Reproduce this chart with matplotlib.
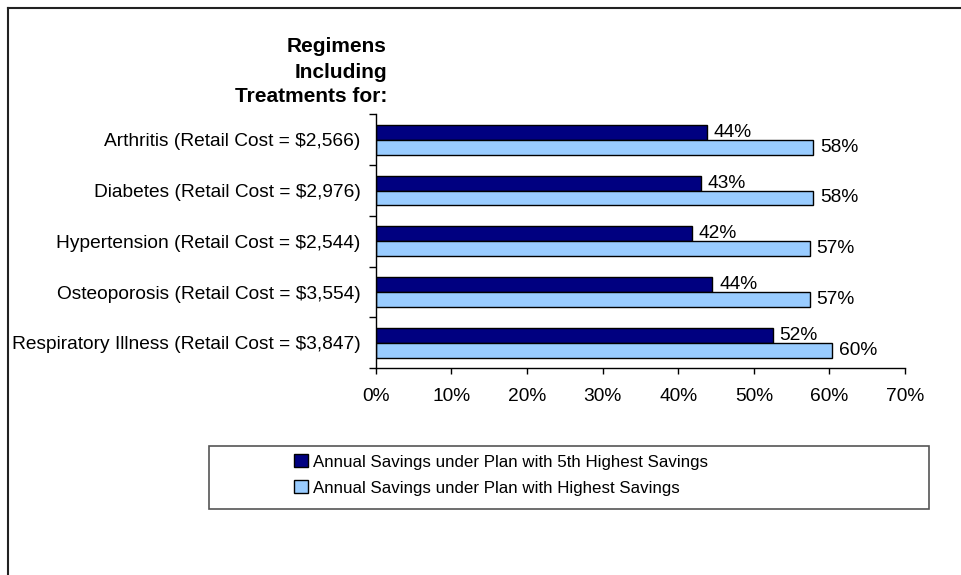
import matplotlib
matplotlib.use("Agg")
import matplotlib.pyplot as plt
from matplotlib.lines import Line2D
from matplotlib.patches import Rectangle, Patch
import numpy as np

plt.rcParams['font.family'] = ['Liberation Sans', 'DejaVu Sans']

# Data
categories = [
    "Arthritis (Retail Cost = $2,566)",
    "Diabetes (Retail Cost = $2,976)",
    "Hypertension (Retail Cost = $2,544)",
    "Osteoporosis (Retail Cost = $3,554)",
    "Respiratory Illness (Retail Cost = $3,847)",
]
fifth_highest = [0.438, 0.430, 0.418, 0.445, 0.525]
highest = [0.578, 0.578, 0.574, 0.574, 0.604]
fifth_labels = ["44%", "43%", "42%", "44%", "52%"]
highest_labels = ["58%", "58%", "57%", "57%", "60%"]
xticks = [0, 0.1, 0.2, 0.3, 0.4, 0.5, 0.6, 0.7]
series_names = [
    "Annual Savings under Plan with 5th Highest Savings",
    "Annual Savings under Plan with Highest Savings",
]

dark = "#000080"
light = "#99CCFF"
fs = 13.75

# Create figure
fig = plt.figure(figsize=(9.62, 5.75), dpi=100)
ax = fig.add_axes([0.3905, 0.3595, 0.5503, 0.4417])

y = np.arange(len(categories))
h = 0.295
ax.barh(y - h / 2, fifth_highest, height=h, color=dark, edgecolor="black", linewidth=1)
ax.barh(y + h / 2, highest, height=h, color=light, edgecolor="black", linewidth=1)

# Value labels next to bars
for i in range(len(categories)):
    ax.annotate(fifth_labels[i], (fifth_highest[i], y[i] - h / 2), xytext=(5, 0),
                textcoords="offset points", ha="left", va="center", fontsize=fs)
    ax.annotate(highest_labels[i], (highest[i], y[i] + h / 2), xytext=(5, 0),
                textcoords="offset points", ha="left", va="center", fontsize=fs)

ax.set_xlim(0, 0.7)
ax.set_ylim(len(categories) - 0.5, -0.5)

ax.set_xticks(xticks)
ax.set_xticklabels([f"{int(round(t * 100))}%" for t in xticks], fontsize=fs)
ax.tick_params(axis="x", length=4, pad=10, width=1)

# y ticks at category boundaries, labels at centres
ax.set_yticks(np.arange(len(categories) + 1) - 0.5)
ax.set_yticklabels([])
ax.set_yticks(y, minor=True)
ax.set_yticklabels(categories, minor=True, fontsize=fs)
ax.tick_params(axis="y", which="major", length=5, width=1)
ax.tick_params(axis="y", which="minor", length=0, pad=11)

for s in ["top", "right"]:
    ax.spines[s].set_visible(False)
for s in ["left", "bottom"]:
    ax.spines[s].set_linewidth(1)

# Heading above the category labels
fig.text(387 / 962, 1 - 72 / 575, "Regimens\nIncluding\nTreatments for:", ha="right", va="center",
         fontsize=15, fontweight="bold", linespacing=1.4)

# Legend box and legend
fig.patches.append(Rectangle((209 / 962, 1 - 509 / 575), 720 / 962, 63 / 575, transform=fig.transFigure,
                             facecolor="white", edgecolor="#555555", linewidth=1.2))
handles = [Patch(facecolor=dark, edgecolor="black"), Patch(facecolor=light, edgecolor="black")]
fig.legend(handles, series_names, loc="center left", bbox_to_anchor=(294 / 962, 1 - 475 / 575),
           frameon=False, fontsize=12.2, handlelength=0.8, handleheight=0.8, handletextpad=0.35,
           labelspacing=0.62, borderpad=0, borderaxespad=0)

# Outer frame (top and left edges visible)
fig.add_artist(Line2D([8 / 962, 1], [1 - 8 / 575, 1 - 8 / 575], transform=fig.transFigure, color="#222222", lw=1.5))
fig.add_artist(Line2D([8 / 962, 8 / 962], [0, 1 - 8 / 575], transform=fig.transFigure, color="#222222", lw=1.5))

fig.savefig("out.png", dpi=100)
